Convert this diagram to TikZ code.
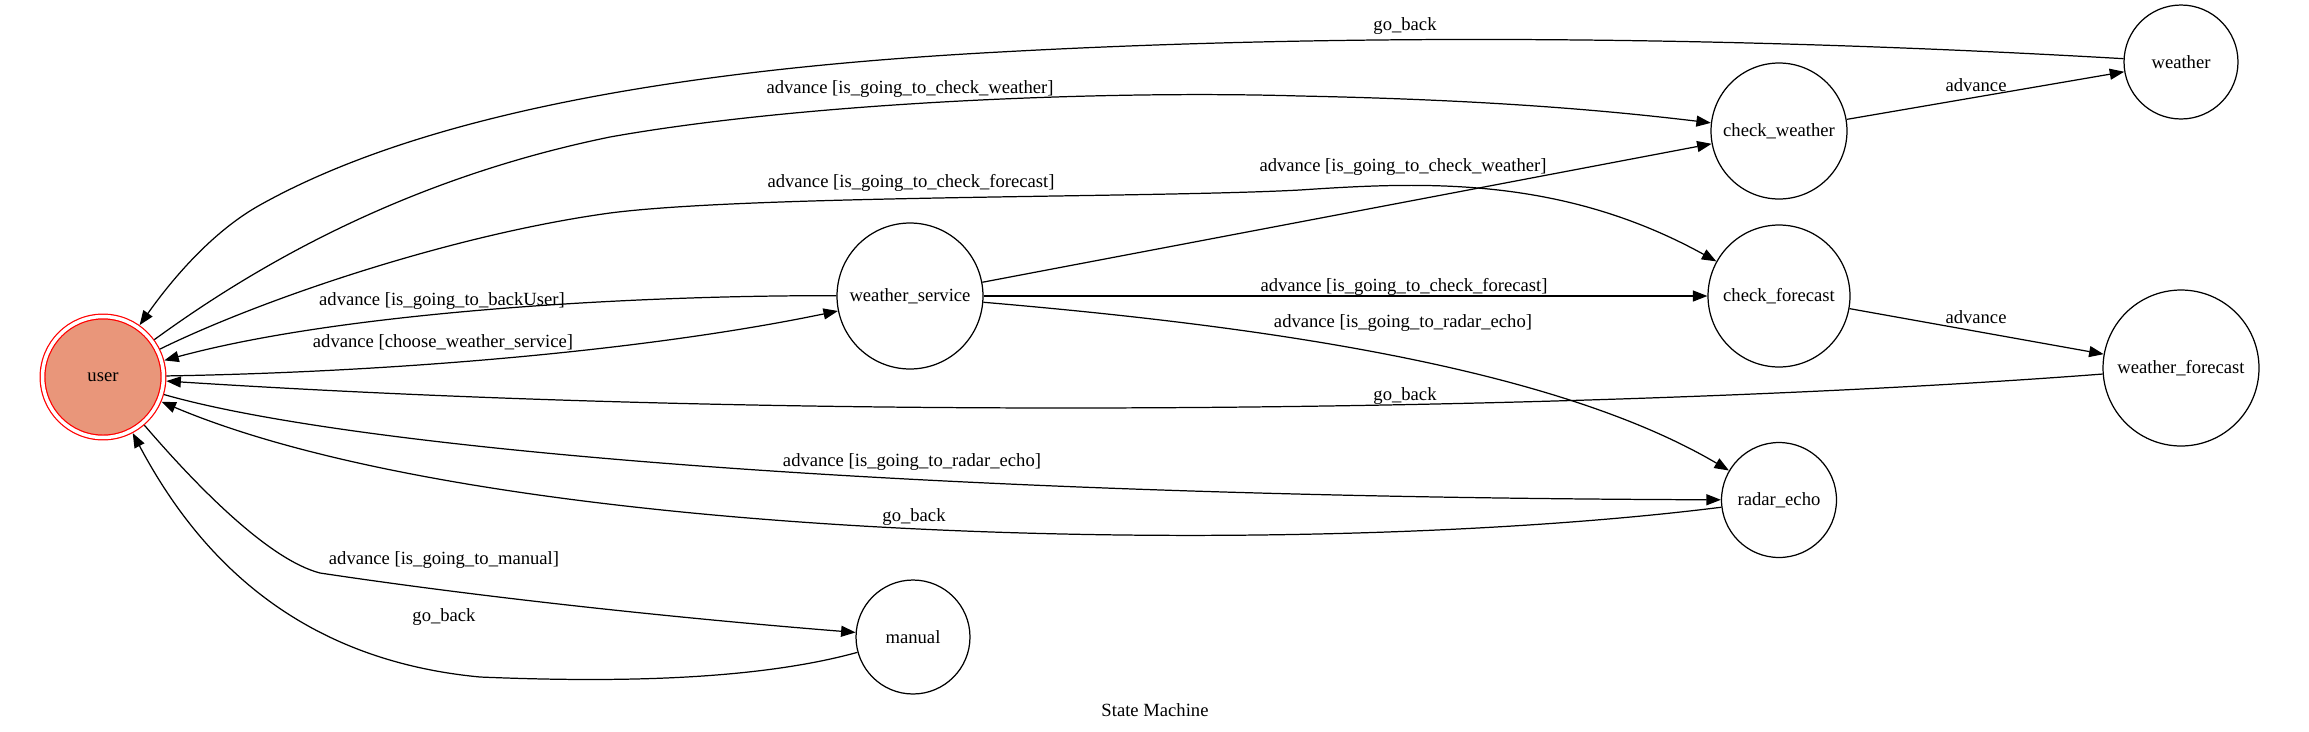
\documentclass[tikz,border=0pt]{standalone}
\usepackage{fontspec}
\setmainfont{Liberation Serif}
\usetikzlibrary{arrows.meta}
\definecolor{usersalmon}{RGB}{233,150,122}
\newcommand{\graphfont}{\fontsize{10.6}{12}\selectfont}

\begin{document}
\begin{tikzpicture}[x=0.02cm, y=-0.02cm,
    state/.style={circle, draw, line width=0.7pt, inner sep=0pt, font=\graphfont},
    lbl/.style={inner sep=0pt, font=\graphfont},
    trans/.style={-{Triangle[length=0.29cm,width=0.22cm]}, line width=0.7pt}]
  \useasboundingbox (0,0) rectangle (2309,731);

  \node[state, draw=red, fill=usersalmon, double=white, double distance=0.07cm, outer sep=0.06cm, minimum size=2.42cm] (user) at (103,377) {user};
  \node[state, minimum size=2.92cm] (wservice) at (910,296) {weather\_service};
  \node[state, minimum size=2.72cm] (checkw) at (1779,131) {check\_weather};
  \node[state, minimum size=2.28cm] (weather) at (2181,62) {weather};
  \node[state, minimum size=2.84cm] (checkf) at (1779,296) {check\_forecast};
  \node[state, minimum size=3.12cm] (wforecast) at (2181,368) {weather\_forecast};
  \node[state, minimum size=2.3cm] (radar) at (1779,500) {radar\_echo};
  \node[state, minimum size=2.28cm] (manual) at (913,637) {manual};

  \draw[trans] (weather) .. controls (1800,40) and (1400,30) .. (1000,52) .. controls (700,68) and (430,110) .. (260,205) .. controls (215,230) and (175,275) .. (user);
  \draw[trans] (user) .. controls (250,270) and (400,180) .. (610,137) .. controls (800,103) and (1100,90) .. (1300,96) .. controls (1500,100) and (1620,112) .. (checkw);
  \draw[trans] (user) .. controls (260,300) and (450,235) .. (610,213) .. controls (750,195) and (1150,198) .. (1300,190) .. controls (1420,182) and (1560,175) .. (checkf);
  \draw[trans] (wservice) -- (checkw);
  \draw[trans] (wservice) -- (checkf);
  \draw[trans] (wservice) .. controls (1250,325) and (1550,365) .. (radar);
  \draw[trans] (wservice) .. controls (650,295) and (350,310) .. (user);
  \draw[trans] (user) .. controls (400,372) and (650,350) .. (wservice);
  \draw[trans] (checkw) -- (weather);
  \draw[trans] (checkf) -- (wforecast);
  \draw[trans] (wforecast) .. controls (1700,405) and (900,428) .. (user);
  \draw[trans] (user) .. controls (350,448) and (900,497) .. (radar);
  \draw[trans] (radar) .. controls (1300,560) and (500,545) .. (user);
  \draw[trans] (user) .. controls (200,490) and (270,560) .. (320,573) .. controls (500,600) and (700,620) .. (manual);
  \draw[trans] (manual) .. controls (750,682) and (600,682) .. (480,677) .. controls (300,660) and (200,560) .. (user);

  \node[lbl] at (1405,26) {go\_back};
  \node[lbl] at (910,89) {advance [is\_going\_to\_check\_weather]};
  \node[lbl] at (911,183) {advance [is\_going\_to\_check\_forecast]};
  \node[lbl] at (1403,167) {advance [is\_going\_to\_check\_weather]};
  \node[lbl] at (1404,287) {advance [is\_going\_to\_check\_forecast]};
  \node[lbl] at (1403,323) {advance [is\_going\_to\_radar\_echo]};
  \node[lbl] at (442,301) {advance [is\_going\_to\_backUser]};
  \node[lbl] at (443,342) {advance [choose\_weather\_service]};
  \node[lbl] at (1976,85) {advance};
  \node[lbl] at (1976,317) {advance};
  \node[lbl] at (1405,396) {go\_back};
  \node[lbl] at (912,462) {advance [is\_going\_to\_radar\_echo]};
  \node[lbl] at (914,517) {go\_back};
  \node[lbl] at (444,560) {advance [is\_going\_to\_manual]};
  \node[lbl] at (444,617) {go\_back};
  \node[lbl] at (1155,710) {State Machine};
\end{tikzpicture}
\end{document}
